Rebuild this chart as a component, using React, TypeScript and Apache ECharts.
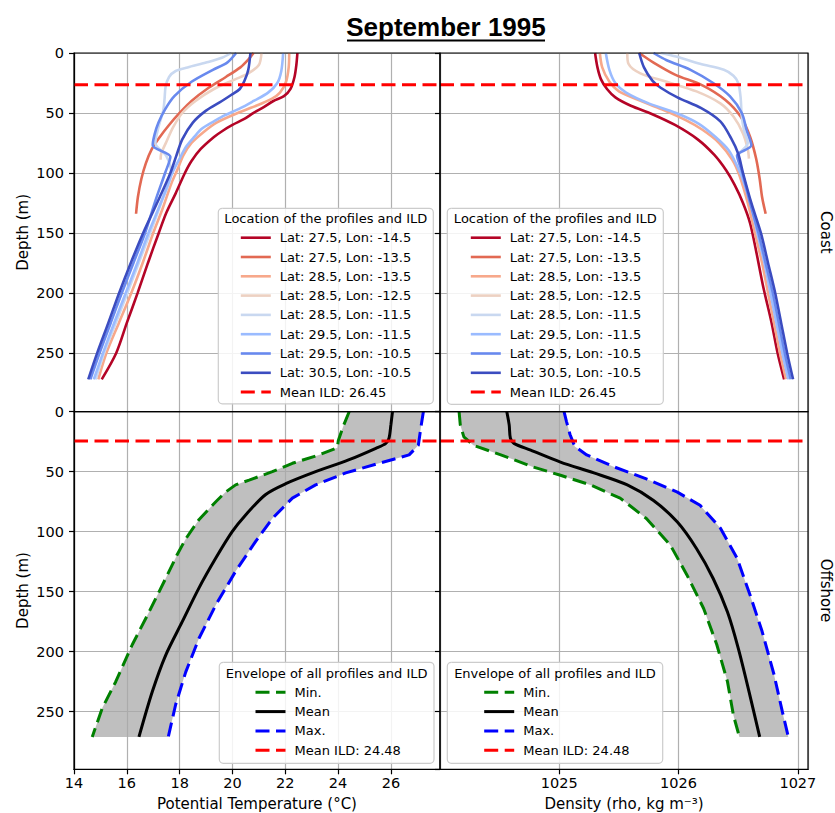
import React, { useEffect, useRef } from "react";
import * as echarts from "echarts";

// ---------------- DATA ----------------
const PROFILE_NAMES = [
  "Lat: 27.5, Lon: -14.5",
  "Lat: 27.5, Lon: -13.5",
  "Lat: 28.5, Lon: -13.5",
  "Lat: 28.5, Lon: -12.5",
  "Lat: 28.5, Lon: -11.5",
  "Lat: 29.5, Lon: -11.5",
  "Lat: 29.5, Lon: -10.5",
  "Lat: 30.5, Lon: -10.5",
];
const PROFILE_COLORS = ["#b40426", "#e26953", "#f7a88b", "#edd1c2", "#c9d8f0", "#9abbff", "#6889ee", "#3b4cc0"];

// [temperature °C, depth m]
const T_LAT275_LON145 = [[22.46,0],[22.42,10],[22.35,20],[22.2,30],[21.95,36],[21.55,40],[21.2,45],[20.8,50],[20.45,55],[20.0,60],[19.62,65],[19.3,70],[18.8,80],[18.45,90],[18.2,100],[17.85,117],[17.5,133],[17.21,150],[16.8,175],[16.41,200],[16.0,225],[15.6,250],[15.05,272]];
const T_LAT275_LON135 = [[20.8,0],[20.62,5],[20.3,12],[19.75,20],[19.1,29],[18.45,40],[18.0,50],[17.6,60],[17.25,70],[16.95,80],[16.72,92],[16.55,105],[16.42,120],[16.35,134]];
const T_LAT285_LON135 = [[22.15,0],[22.13,12],[22.03,24],[21.8,33],[21.5,38],[20.9,44],[20.2,50],[19.4,58],[18.9,66],[18.45,75],[18.15,85],[17.92,97],[17.7,108],[17.35,130],[17.0,150],[16.6,175],[16.17,200],[15.7,225],[15.23,250],[14.92,272]];
const T_LAT285_LON125 = [[21.1,0],[21.0,10],[20.6,17],[20.1,22],[19.3,30],[18.6,40],[18.1,50],[17.75,62],[17.5,74],[17.3,84],[17.28,89]];
const T_LAT285_LON115 = [[19.95,0],[19.6,4],[19.0,8],[18.3,12],[17.85,15],[17.6,20],[17.47,28],[17.43,38],[17.38,48],[17.22,60],[17.08,75],[17.5,86],[17.68,100],[17.3,125],[16.88,150],[16.45,175],[16.02,200],[15.58,225],[15.14,250],[14.82,272]];
const T_LAT295_LON115 = [[21.92,0],[21.85,15],[21.7,25],[21.35,33],[20.8,40],[20.3,46],[19.7,52],[19.3,57],[18.85,63],[18.55,70],[18.25,78],[18.0,88],[17.72,100],[17.55,110],[17.25,127],[16.82,150],[16.4,175],[15.96,200],[15.52,225],[15.1,250],[14.75,272]];
const T_LAT295_LON105 = [[20.14,0],[19.8,8],[19.26,14],[18.45,24],[17.8,36],[17.45,47],[17.2,58],[17.05,68],[16.98,77],[17.65,86.5],[17.45,100],[17.1,122],[16.69,150],[16.25,175],[15.81,200],[15.39,225],[14.97,250],[14.62,272]];
const T_LAT305_LON105 = [[20.68,0],[20.6,14],[20.46,23],[20.28,30],[19.95,35],[19.6,40],[19.0,48],[18.5,58],[18.1,72],[17.87,86],[17.65,100],[17.25,120],[16.62,150],[16.15,175],[15.71,200],[15.3,225],[14.88,250],[14.54,272]];

// [density kg m-3, depth m]
const D_LAT275_LON145 = [[1025.30,0],[1025.32,12],[1025.35,22],[1025.40,30],[1025.47,37],[1025.6,44],[1025.78,51],[1025.97,60],[1026.16,72],[1026.3,85],[1026.4,98],[1026.47,110],[1026.54,125],[1026.6,142],[1026.65,165],[1026.71,195],[1026.78,225],[1026.83,250],[1026.885,272]];
const D_LAT275_LON135 = [[1025.67,0],[1025.79,8],[1025.97,18],[1026.2,27],[1026.39,39],[1026.52,53],[1026.6,70],[1026.65,88],[1026.68,105],[1026.7,120],[1026.73,134]];
const D_LAT285_LON135 = [[1025.34,0],[1025.36,12],[1025.42,24],[1025.5,32],[1025.66,39],[1025.86,47],[1026.06,56],[1026.2,64],[1026.34,75],[1026.45,89],[1026.51,102],[1026.58,125],[1026.64,150],[1026.7,175],[1026.75,200],[1026.8,225],[1026.85,250],[1026.9,272]];
const D_LAT285_LON125 = [[1025.57,0],[1025.58,9],[1025.68,17],[1025.9,24],[1026.15,32],[1026.35,42],[1026.46,53],[1026.54,67],[1026.58,80],[1026.59,88]];
const D_LAT285_LON115 = [[1025.85,0],[1025.98,3],[1026.18,9],[1026.38,14],[1026.46,19],[1026.5,25],[1026.52,37],[1026.53,53],[1026.55,65],[1026.58,75],[1026.5,86],[1026.535,100],[1026.605,125],[1026.665,150],[1026.725,175],[1026.78,200],[1026.83,225],[1026.88,250],[1026.93,272]];
const D_LAT295_LON115 = [[1025.39,0],[1025.42,14],[1025.47,25],[1025.56,33],[1025.75,42],[1025.98,50],[1026.17,59],[1026.31,70],[1026.42,81],[1026.48,92],[1026.53,103],[1026.6,125],[1026.66,150],[1026.72,175],[1026.77,200],[1026.82,225],[1026.87,250],[1026.92,272]];
const D_LAT295_LON105 = [[1025.79,0],[1025.9,6],[1026.1,14],[1026.29,25],[1026.43,36],[1026.53,50],[1026.57,64],[1026.61,77],[1026.49,85.5],[1026.53,98],[1026.6,125],[1026.67,150],[1026.73,175],[1026.79,200],[1026.84,225],[1026.89,250],[1026.94,272]];
const D_LAT305_LON105 = [[1025.67,0],[1025.71,12],[1025.78,23],[1025.85,29],[1025.99,37],[1026.19,46],[1026.35,57],[1026.44,71],[1026.5,84],[1026.54,100],[1026.61,125],[1026.69,150],[1026.75,175],[1026.81,200],[1026.86,225],[1026.91,250],[1026.96,272]];

const TEMP_PROFILES = [T_LAT275_LON145, T_LAT275_LON135, T_LAT285_LON135, T_LAT285_LON125, T_LAT285_LON115, T_LAT295_LON115, T_LAT295_LON105, T_LAT305_LON105];
const DENS_PROFILES = [D_LAT275_LON145, D_LAT275_LON135, D_LAT285_LON135, D_LAT285_LON125, D_LAT285_LON115, D_LAT295_LON115, D_LAT295_LON105, D_LAT305_LON105];

// Offshore envelope
const TEMP_MIN = [[24.42,0],[24.2,12],[24.01,24],[23.97,30],[23.28,36],[22.27,43],[21.51,50],[20.63,57],[20.12,61],[19.74,67],[19.37,75],[18.73,90],[18.23,106],[17.91,119],[17.47,139],[16.84,167],[16.21,194],[15.58,225],[15.07,247],[14.69,271]];
const TEMP_MAX = [[27.23,0],[27.13,14],[27.04,28],[26.69,36],[25.55,43],[24.29,51],[23.15,61],[22.27,72],[21.51,89],[20.88,108],[20.12,133],[19.37,161],[18.73,189],[18.23,217],[17.85,244],[17.57,271]];
const TEMP_MEAN = [[26.06,0],[26.0,11],[25.93,22],[25.81,26.4],[25.43,30.5],[24.42,40],[23.15,50],[22.02,60],[21.26,69],[20.5,86],[19.99,100],[19.37,122],[18.73,147],[18.1,175],[17.47,203],[16.97,233],[16.46,271]];
const DENS_MIN = [[1024.16,0],[1024.17,11],[1024.2,21],[1024.28,28],[1024.51,36],[1024.78,46],[1025.01,53],[1025.26,61],[1025.51,72],[1025.73,89],[1025.93,111],[1026.07,136],[1026.21,164],[1026.32,194],[1026.41,225],[1026.46,253],[1026.51,271]];
const DENS_MAX = [[1025.04,0],[1025.06,8],[1025.09,19],[1025.13,29],[1025.23,36],[1025.46,46],[1025.73,56],[1025.99,67],[1026.18,78],[1026.35,97],[1026.49,122],[1026.6,153],[1026.7,183],[1026.8,219],[1026.87,250],[1026.92,271]];
const DENS_MEAN = [[1024.56,0],[1024.58,11],[1024.59,22],[1024.62,26.4],[1024.76,32],[1025.01,42],[1025.29,51],[1025.57,61],[1025.79,74],[1025.99,92],[1026.15,114],[1026.29,139],[1026.41,167],[1026.5,197],[1026.59,233],[1026.68,271]];

const MEAN_ILD_COAST = 26.45;
const MEAN_ILD_OFFSHORE = 24.48;

const TEMP_RANGE = [14, 27.86];
const DENS_RANGE = [1024, 1027.085];
const DEPTH_RANGE_COAST = [0, 299];
const DEPTH_RANGE_OFFSHORE = [0, 298];
const TEMP_STEP = 2;
const DENS_STEP = 1;
const DEPTH_STEP = 50;

// ---------------- LAYOUT ----------------
const FONT = "DejaVu Sans";
const X0 = 74, XM = 440, X1 = 808;
const Y0 = 53, YM = 411.7, Y1 = 769.3;

const GRIDS = [
  { left: X0, top: Y0, width: XM - X0, height: YM - Y0 },
  { left: XM, top: Y0, width: X1 - XM, height: YM - Y0 },
  { left: X0, top: YM, width: XM - X0, height: Y1 - YM },
  { left: XM, top: YM, width: X1 - XM, height: Y1 - YM },
];

const gridLine = { show: true, lineStyle: { color: "#b0b0b0", width: 1.2 } };
const blackLine = { color: "#000", width: 1.2 };
const tickText = { fontSize: 14.5, color: "#000", fontFamily: FONT };
const nameText = { fontSize: 15, color: "#000", fontFamily: FONT };
const plainNumber = (v: number) => String(Math.round(v * 1000) / 1000);

function xAxisDef(idx: number) {
  const isTemp = idx % 2 === 0;
  const bottom = idx >= 2;
  return {
    gridIndex: idx,
    type: "value",
    min: isTemp ? TEMP_RANGE[0] : DENS_RANGE[0],
    max: isTemp ? TEMP_RANGE[1] : DENS_RANGE[1],
    interval: isTemp ? TEMP_STEP : DENS_STEP,
    axisLine: { show: bottom, onZero: false, lineStyle: blackLine },
    axisTick: { show: bottom, length: 5, lineStyle: blackLine },
    axisLabel: {
      show: bottom,
      showMinLabel: isTemp,
      showMaxLabel: false,
      margin: 6,
      formatter: plainNumber,
      ...tickText,
    },
    name: bottom ? (isTemp ? "Potential Temperature (°C)" : "Density (rho, kg m⁻³)") : "",
    nameLocation: "middle",
    nameGap: 27,
    nameTextStyle: nameText,
    splitLine: gridLine,
  };
}

function yAxisDef(idx: number) {
  const left = idx % 2 === 0;
  const range = idx < 2 ? DEPTH_RANGE_COAST : DEPTH_RANGE_OFFSHORE;
  return {
    gridIndex: idx,
    type: "value",
    inverse: true,
    min: range[0],
    max: range[1],
    interval: DEPTH_STEP,
    axisLine: { show: left, onZero: false, lineStyle: blackLine },
    axisTick: { show: true, length: 5, lineStyle: blackLine },
    axisLabel: { show: left, showMaxLabel: false, margin: 10, formatter: plainNumber, ...tickText },
    name: left ? "Depth (m)" : "",
    nameLocation: "middle",
    nameGap: 44,
    nameTextStyle: nameText,
    splitLine: gridLine,
  };
}

function lineSeries(name: string, idx: number, data: number[][], color: string, width: number, dash: any, smooth: number | boolean) {
  return {
    type: "line",
    name,
    xAxisIndex: idx,
    yAxisIndex: idx,
    data,
    symbol: "none",
    showSymbol: false,
    smooth,
    silent: true,
    lineStyle: { color, width, type: dash },
    itemStyle: { color },
    emphasis: { disabled: true },
    z: 2,
  };
}

function fillSeries(idx: number, lo: number[][], hi: number[][]) {
  return {
    type: "custom",
    name: "_envelope",
    xAxisIndex: idx,
    yAxisIndex: idx,
    silent: true,
    z: 1,
    data: [lo[0]],
    renderItem: (_params: any, api: any) => {
      const pts = lo.map((p) => api.coord(p)).concat(hi.slice().reverse().map((p) => api.coord(p)));
      return { type: "polygon", shape: { points: pts }, style: { fill: "rgba(170,170,170,0.75)" } };
    },
  };
}

function buildOption() {
  const ildCoastName = `Mean ILD: ${MEAN_ILD_COAST.toFixed(2)}`;
  const ildOffName = `Mean ILD: ${MEAN_ILD_OFFSHORE.toFixed(2)}`;
  const DASH = [14, 6.5];
  const series: any[] = [];

  PROFILE_NAMES.forEach((n, i) => series.push(lineSeries(n, 0, TEMP_PROFILES[i], PROFILE_COLORS[i], 2.6, "solid", 0.3)));
  series.push(lineSeries(ildCoastName, 0, [[TEMP_RANGE[0], MEAN_ILD_COAST], [TEMP_RANGE[1], MEAN_ILD_COAST]], "#ff0000", 3, DASH, false));
  PROFILE_NAMES.forEach((n, i) => series.push(lineSeries(n, 1, DENS_PROFILES[i], PROFILE_COLORS[i], 2.6, "solid", 0.3)));
  series.push(lineSeries(ildCoastName, 1, [[DENS_RANGE[0], MEAN_ILD_COAST], [DENS_RANGE[1], MEAN_ILD_COAST]], "#ff0000", 3, DASH, false));

  series.push(fillSeries(2, TEMP_MIN, TEMP_MAX));
  series.push(lineSeries("Min.", 2, TEMP_MIN, "#008000", 3, DASH, false));
  series.push(lineSeries("Mean", 2, TEMP_MEAN, "#000000", 3, "solid", 0.3));
  series.push(lineSeries("Max.", 2, TEMP_MAX, "#0000ff", 3, DASH, false));
  series.push(lineSeries(ildOffName, 2, [[TEMP_RANGE[0], MEAN_ILD_OFFSHORE], [TEMP_RANGE[1], MEAN_ILD_OFFSHORE]], "#ff0000", 3, DASH, false));

  series.push(fillSeries(3, DENS_MIN, DENS_MAX));
  series.push(lineSeries("Min.", 3, DENS_MIN, "#008000", 3, DASH, false));
  series.push(lineSeries("Mean", 3, DENS_MEAN, "#000000", 3, "solid", 0.3));
  series.push(lineSeries("Max.", 3, DENS_MAX, "#0000ff", 3, DASH, false));
  series.push(lineSeries(ildOffName, 3, [[DENS_RANGE[0], MEAN_ILD_OFFSHORE], [DENS_RANGE[1], MEAN_ILD_OFFSHORE]], "#ff0000", 3, DASH, false));

  const legendBase = {
    orient: "vertical",
    padding: 0,
    itemWidth: 30,
    itemHeight: 14,
    itemGap: 5.3,
    selectedMode: false,
    z: 20,
    itemStyle: { opacity: 0 },
    lineStyle: { width: "inherit" },
    textStyle: { fontSize: 13, fontFamily: FONT, color: "#000", padding: [0, 0, 0, 4], lineHeight: 14 },
  };
  const coastNames = [...PROFILE_NAMES, ildCoastName];
  const offNames = ["Min.", "Mean", "Max.", ildOffName];

  const legendBoxes = [
    { x: 218.3, y: 208.3, w: 215, h: 195.5, title: "Location of the profiles and ILD", ty: 218.6 },
    { x: 447.3, y: 208.3, w: 216, h: 196, title: "Location of the profiles and ILD", ty: 218.6 },
    { x: 219.3, y: 662.3, w: 214.7, h: 101, title: "Envelope of all profiles and ILD", ty: 673.3 },
    { x: 447.3, y: 662.3, w: 215.4, h: 101, title: "Envelope of all profiles and ILD", ty: 673.3 },
  ];

  const elements: any[] = [];
  GRIDS.forEach((g) =>
    elements.push({
      type: "rect",
      silent: true,
      z: 10,
      shape: { x: g.left, y: g.top, width: g.width, height: g.height },
      style: { fill: "none", stroke: "#000", lineWidth: 1.2 },
    })
  );
  legendBoxes.forEach((b) => {
    elements.push({
      type: "rect",
      silent: true,
      z: 8,
      shape: { x: b.x, y: b.y, width: b.w, height: b.h, r: 4 },
      style: { fill: "rgba(255,255,255,0.85)", stroke: "#cccccc", lineWidth: 1.2 },
    });
    elements.push({
      type: "text",
      silent: true,
      z: 9,
      x: b.x + b.w / 2,
      y: b.ty,
      style: { text: b.title, fontSize: 13, fontFamily: FONT, fill: "#000", textAlign: "center", textVerticalAlign: "middle" },
    });
  });
  elements.push({
    type: "text",
    silent: true,
    x: 446,
    y: 27,
    style: {
      text: "September 1995",
      fontSize: 26,
      fontWeight: "bold",
      fontFamily: "Liberation Sans",
      fill: "#000",
      textAlign: "center",
      textVerticalAlign: "middle",
    },
  });
  elements.push({
    type: "line",
    silent: true,
    shape: { x1: 347, y1: 40.5, x2: 545, y2: 40.5 },
    style: { stroke: "#000", lineWidth: 2 },
  });
  elements.push({
    type: "text",
    silent: true,
    x: 826,
    y: (Y0 + YM) / 2,
    rotation: -Math.PI / 2,
    style: { text: "Coast", fontSize: 15, fontFamily: FONT, fill: "#000", textAlign: "center", textVerticalAlign: "middle" },
  });
  elements.push({
    type: "text",
    silent: true,
    x: 826,
    y: (YM + Y1) / 2,
    rotation: -Math.PI / 2,
    style: { text: "Offshore", fontSize: 15, fontFamily: FONT, fill: "#000", textAlign: "center", textVerticalAlign: "middle" },
  });

  return {
    animation: false,
    backgroundColor: "#ffffff",
    textStyle: { fontFamily: FONT },
    grid: GRIDS.map((g) => ({ ...g, containLabel: false })),
    xAxis: [0, 1, 2, 3].map(xAxisDef),
    yAxis: [0, 1, 2, 3].map(yAxisDef),
    legend: [
      { ...legendBase, left: 239.3, top: 230.7, data: coastNames },
      { ...legendBase, left: 469.3, top: 230.7, data: coastNames },
      { ...legendBase, left: 254, top: 685.3, data: offNames },
      { ...legendBase, left: 482.7, top: 685.3, data: offNames },
    ],
    series,
    graphic: { elements },
  };
}

export default function App() {
  const ref = useRef<HTMLDivElement>(null);
  useEffect(() => {
    if (!ref.current) return;
    const chart = echarts.init(ref.current, null, { renderer: "svg" });
    chart.setOption(buildOption() as any);
    return () => chart.dispose();
  }, []);
  return <div ref={ref} style={{ position: "absolute", left: 0, top: 0, width: 835, height: 813 }} />;
}
